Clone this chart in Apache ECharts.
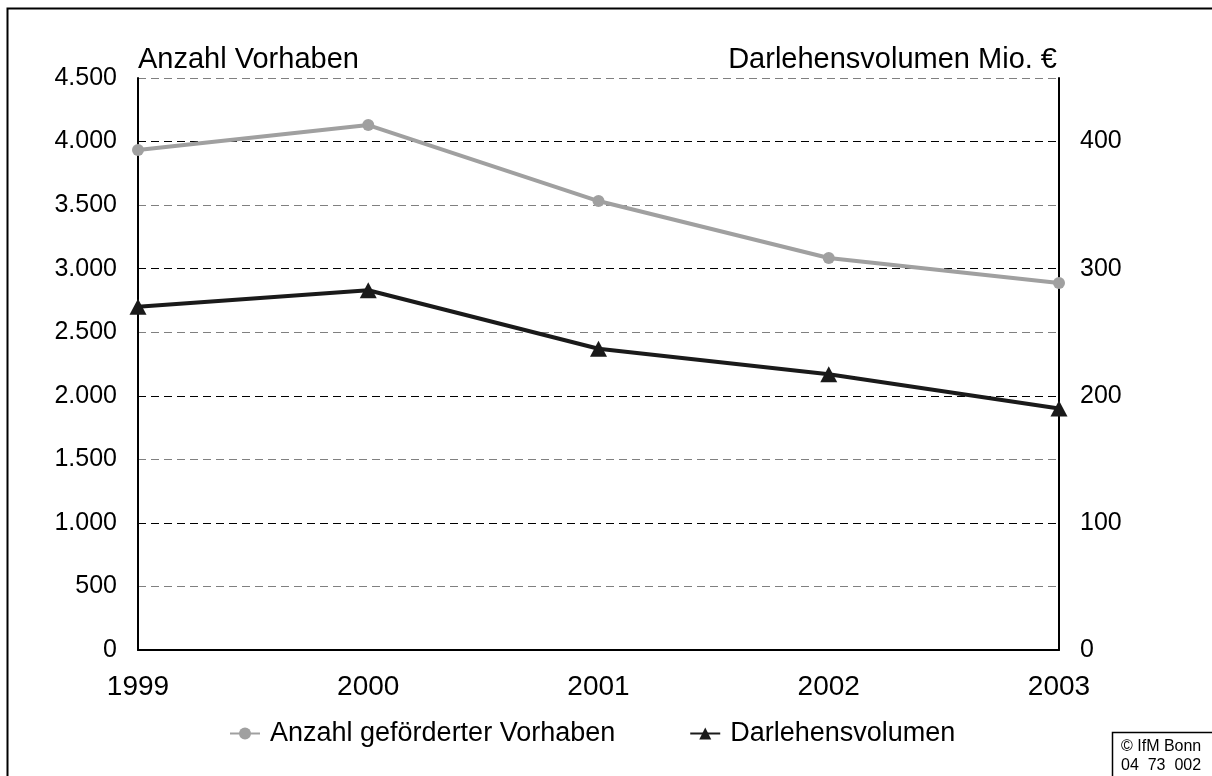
<!DOCTYPE html>
<html>
<head>
<meta charset="utf-8">
<script src="https://cdn.jsdelivr.net/npm/echarts@6/dist/echarts.min.js"></script>
<style>
  html, body { margin: 0; padding: 0; background: #fff; }
  #chart { width: 1212px; height: 776px; }
</style>
</head>
<body>
<div id="chart"></div>
<script>
const years = ['1999', '2000', '2001', '2002', '2003']
const anzahlVorhaben = [3933, 4130, 3532, 3084, 2887]
const darlehensvolumen = [270, 283, 237, 217, 190]

const font = '"Liberation Sans", Arial, sans-serif'

const chart = echarts.init(document.getElementById('chart'))

chart.setOption({
  animation: false,
  textStyle: { fontFamily: font, color: '#000' },
  grid: { left: 138, right: 153, top: 78, bottom: 126 },
  legend: {
    top: 715,
    left: 224,
    itemGap: 74,
    itemWidth: 30,
    itemHeight: 15,
    textStyle: { fontSize: 27, color: '#000', fontFamily: font, padding: [0, 0, 0, 5] },
    data: ['Anzahl geförderter Vorhaben', 'Darlehensvolumen']
  },
  xAxis: {
    type: 'category',
    data: years,
    boundaryGap: false,
    axisLine: { lineStyle: { color: '#000', width: 2 } },
    axisTick: { show: false },
    axisLabel: { fontSize: 28, color: '#000', margin: 23 },
    splitLine: { show: false }
  },
  yAxis: [
    {
      type: 'value',
      min: 0,
      max: 4500,
      interval: 500,
      name: 'Anzahl Vorhaben',
      nameLocation: 'end',
      nameGap: 4,
      nameTextStyle: { fontSize: 29, color: '#000', align: 'left' },
      axisLine: { show: true, lineStyle: { color: '#000', width: 2 } },
      axisTick: { show: false },
      axisLabel: {
        fontSize: 25,
        color: '#000',
        margin: 21,
        padding: [10, 0, 0, 0],
        formatter: v => v.toLocaleString('de-DE')
      },
      splitLine: {
        show: true,
        lineStyle: { color: ['#000', '#808080'], type: [8, 5], width: 1 }
      }
    },
    {
      type: 'value',
      min: 0,
      max: 450,
      interval: 100,
      position: 'right',
      name: 'Darlehensvolumen Mio. €',
      nameLocation: 'end',
      nameGap: 4,
      nameTextStyle: { fontSize: 29, color: '#000', align: 'right', padding: [0, 2, 0, 0] },
      axisLine: { show: true, lineStyle: { color: '#000', width: 2 } },
      axisTick: { show: false },
      axisLabel: {
        fontSize: 25,
        color: '#000',
        margin: 21,
        padding: [10, 0, 0, 0],
        formatter: v => (v > 400 ? '' : String(v))
      },
      splitLine: { show: false }
    }
  ],
  series: [
    {
      name: 'Anzahl geförderter Vorhaben',
      type: 'line',
      yAxisIndex: 0,
      data: anzahlVorhaben,
      symbol: 'circle',
      symbolSize: 12,
      itemStyle: { color: '#a0a0a0' },
      lineStyle: { color: '#a0a0a0', width: 4 },
      z: 3
    },
    {
      name: 'Darlehensvolumen',
      type: 'line',
      yAxisIndex: 1,
      data: darlehensvolumen,
      symbol: 'triangle',
      symbolSize: [17, 16],
      itemStyle: { color: '#1a1a1a' },
      lineStyle: { color: '#1a1a1a', width: 4 },
      z: 4
    }
  ],
  graphic: [
    {
      type: 'rect',
      shape: { x: 7.5, y: 8.5, width: 1230, height: 800 },
      style: { fill: 'none', stroke: '#000', lineWidth: 2 },
      silent: true
    },
    {
      type: 'rect',
      shape: { x: 1112.5, y: 732.5, width: 120, height: 60 },
      style: { fill: '#fff', stroke: '#000', lineWidth: 1.5 },
      silent: true
    },
    {
      type: 'text',
      left: 1121,
      top: 737,
      style: {
        text: '© IfM Bonn\n04  73  002',
        fontSize: 16,
        lineHeight: 19,
        fontFamily: font,
        fill: '#000'
      },
      silent: true
    }
  ]
})
</script>
</body>
</html>
